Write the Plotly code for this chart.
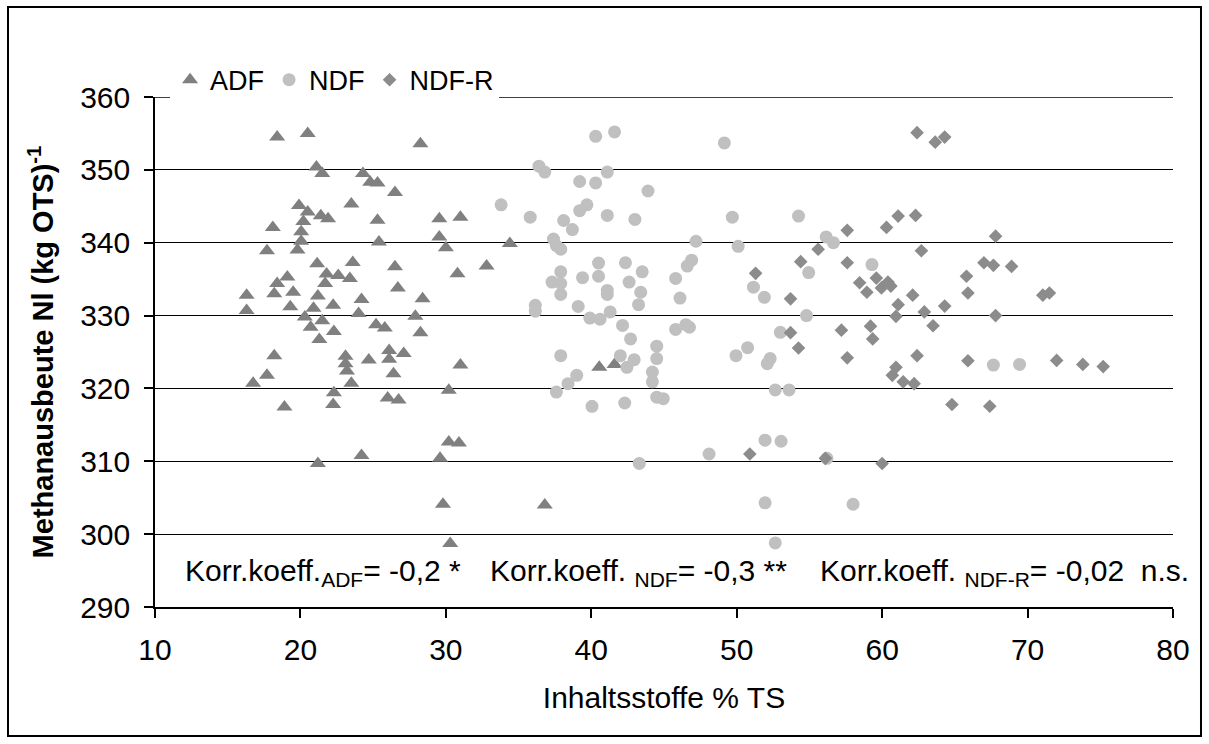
import plotly.graph_objects as go

# ---- data ----
adf_x = [18.4, 20.5, 21.1, 21.5, 24.3, 24.8, 25.3, 26.5, 23.5, 19.9, 20.5, 21.4, 21.9, 20.2, 18.1, 25.3,
         20.05, 20.05, 25.4, 17.7, 19.8, 21.15, 23.6, 21.8, 22.6, 23.4, 26.5, 19.1, 18.4, 18.2, 21.7, 19.5,
         26.7, 16.3, 21.2, 16.3, 19.3, 22.25, 24.2, 20.9, 24.0, 20.3, 21.5, 20.7, 25.2, 25.8, 22.3, 21.3,
         18.2, 23.1, 23.1, 23.2, 24.7, 26.1, 27.1, 26.1, 26.4, 17.7, 16.75, 23.5, 22.3, 22.25, 18.9, 26.0,
         26.75, 21.2, 24.2,
         28.25, 29.55, 31.0, 29.55, 30.0, 34.4, 32.8, 30.8, 28.4, 27.9, 28.25,
         31.0, 30.2, 30.2, 30.9, 29.6, 29.8, 36.8, 30.3, 40.55, 41.6]
adf_y = [354.5, 355.0, 350.4, 349.5, 349.5, 348.3, 348.2, 346.9, 345.3, 345.1, 344.2, 343.7, 343.3, 342.9, 342.1, 343.1,
         341.5, 340.2, 340.1, 338.9, 339.0, 337.1, 337.3, 335.7, 335.5, 335.1, 336.7, 335.3, 334.4, 333.0, 334.4, 333.2,
         333.8, 332.8, 332.7, 330.7, 331.2, 331.4, 332.2, 331.0, 330.3, 329.8, 329.3, 328.4, 328.75, 328.3, 327.8, 326.7,
         324.5, 324.4, 323.4, 322.4, 323.9, 325.2, 324.8, 324.0, 322.0, 321.8, 320.7, 320.7, 319.4, 317.8, 317.45, 318.7,
         318.4, 309.7, 310.8,
         353.6, 343.3, 343.5, 340.8, 339.3, 339.9, 336.8, 335.75, 332.3, 329.9, 327.65,
         323.2, 319.75, 312.65, 312.5, 310.4, 304.1, 304.0, 298.7, 322.9, 323.3]

ndf_x = [40.3, 41.6, 36.4, 36.8, 41.1, 39.2, 40.3, 43.9, 33.8, 35.8, 39.7, 39.2, 41.1, 43.0, 38.1, 38.7,
         37.4, 37.9, 37.6, 40.5, 42.35, 43.5, 37.9, 39.4, 40.5, 37.3, 37.9, 42.6, 41.1, 41.1, 43.4, 37.9,
         43.25, 36.15, 36.15, 39.1, 41.3, 39.9, 40.6, 42.15, 42.7, 44.5,
         37.9, 42.0, 42.45, 42.95, 44.5, 44.2, 44.2, 44.5, 44.95, 39.0, 38.4, 37.6, 40.05, 42.3, 43.3,
         49.15, 49.7, 54.25, 47.2, 50.1, 56.15, 56.65, 46.9, 46.6, 45.8, 46.1, 54.95, 59.3, 51.15, 51.9,
         54.8, 45.8, 46.5, 46.75, 53.0, 50.75,
         49.95, 52.1, 52.3, 52.65, 53.6, 51.95, 53.05, 48.1, 56.2, 51.95, 58.0, 52.65,
         67.65, 69.45]
ndf_y = [354.6, 355.2, 350.5, 349.7, 349.7, 348.4, 348.2, 347.1, 345.2, 343.5, 345.2, 344.4, 343.75, 343.2, 343.05, 341.8,
         340.5, 339.1, 339.6, 337.2, 337.25, 336.0, 336.0, 335.2, 335.4, 334.6, 334.4, 334.6, 333.45, 332.9, 333.2, 332.9,
         331.5, 331.4, 330.6, 331.25, 330.5, 329.65, 329.5, 328.65, 326.8, 325.8,
         324.5, 324.5, 322.9, 323.95, 324.1, 322.25, 320.9, 318.8, 318.6, 321.8, 320.65, 319.5, 317.55, 318.0, 309.7,
         353.7, 343.5, 343.65, 340.2, 339.5, 340.8, 340.0, 337.6, 336.8, 335.1, 332.4, 335.9, 337.0, 333.9, 332.5,
         330.0, 328.1, 328.75, 328.4, 327.7, 325.6,
         324.5, 323.4, 324.1, 319.8, 319.8, 312.9, 312.75, 311.0, 310.4, 304.3, 304.1, 298.8,
         323.2, 323.3]

ndfr_x = [62.4, 57.6, 60.3, 61.1, 62.3, 55.6, 62.7, 54.4, 57.6, 51.3, 58.45, 58.95, 59.6, 59.95, 60.4, 60.6,
          62.1, 61.1, 60.95, 62.9, 53.7, 53.7, 57.2, 59.2, 59.35, 54.25,
          63.65, 64.3, 67.8, 67.0, 67.65, 68.9, 65.8, 65.9, 71.05, 71.5, 64.3, 63.5, 67.8,
          57.6, 62.4, 60.95, 60.7, 61.45, 62.2, 50.9, 56.1, 60.0,
          65.9, 72.0, 73.8, 75.2, 64.8, 67.4]
ndfr_y = [355.1, 341.7, 342.1, 343.65, 343.75, 339.1, 338.9, 337.4, 337.25, 335.8, 334.5, 333.2, 335.15, 333.8, 334.6, 334.05,
          332.8, 331.5, 329.9, 330.5, 332.3, 327.65, 328.0, 328.55, 326.8, 325.55,
          353.8, 354.5, 340.9, 337.25, 336.9, 336.75, 335.4, 333.1, 332.8, 333.1, 331.3, 328.6, 330.0,
          324.2, 324.5, 322.9, 321.8, 320.9, 320.65, 311.0, 310.4, 309.7,
          323.8, 323.85, 323.3, 323.0, 317.8, 317.55]

x_range = [10, 80]
y_range = [290, 360]

FONT = "Arial, 'Liberation Sans', sans-serif"

fig = go.Figure()
fig.add_trace(go.Scatter(x=adf_x, y=adf_y, mode="markers", name="ADF",
                         marker=dict(symbol="triangle-up", size=14, color="#808080", line=dict(width=0))))
fig.add_trace(go.Scatter(x=ndf_x, y=ndf_y, mode="markers", name="NDF",
                         marker=dict(symbol="circle", size=13, color="#C0C0C0", line=dict(width=0))))
fig.add_trace(go.Scatter(x=ndfr_x, y=ndfr_y, mode="markers", name="NDF-R",
                         marker=dict(symbol="diamond", size=10.5, color="#8C8C8C", line=dict(width=0))))

fig.update_layout(
    width=1209, height=744,
    margin=dict(l=155, r=36, t=97, b=137),
    paper_bgcolor="white", plot_bgcolor="white",
    font=dict(family=FONT, size=30, color="black"),
    showlegend=True,
    legend=dict(orientation="h", x=0.0148, xanchor="left", y=1.033, yanchor="middle",
                bgcolor="white", font=dict(size=27), borderwidth=0),
    xaxis=dict(range=x_range, dtick=10, tick0=10, showgrid=False, zeroline=False,
               showline=True, linecolor="black", linewidth=1.5,
               ticks="outside", ticklen=9, tickwidth=1.5, tickcolor="black",
               tickfont=dict(size=30), ticklabelstandoff=6,
               title=dict(text="Inhaltsstoffe % TS", font=dict(size=30), standoff=22)),
    yaxis=dict(range=y_range, dtick=10, tick0=290, showgrid=True, gridcolor="black", gridwidth=1.3,
               zeroline=False, showline=True, linecolor="black", linewidth=1.5,
               ticks="outside", ticklen=9, tickwidth=1.5, tickcolor="black",
               tickfont=dict(size=30), ticklabelstandoff=8,
               title=dict(text="<b>Methanausbeute Nl (kg OTS)<sup>-1</sup></b>", font=dict(size=29), standoff=18)),
    shapes=[
        # top gridline at the upper end of the value axis
        dict(type="line", xref="x", yref="y", x0=x_range[0], x1=x_range[1], y0=y_range[1], y1=y_range[1],
             line=dict(color="black", width=1.3), layer="below"),
        # outer chart frame
        dict(type="rect", xref="paper", yref="paper",
             x0=-0.1444, x1=1.0275, y0=-0.2529, y1=1.1765,
             line=dict(color="black", width=2), fillcolor="rgba(0,0,0,0)", layer="above"),
    ],
    annotations=[
        dict(text="Korr.koeff.<sub>ADF</sub>= -0,2 *", xref="paper", yref="paper",
             x=0.0275, y=0.0686, xanchor="left", yanchor="middle", showarrow=False, font=dict(size=30)),
        dict(text="Korr.koeff. <sub>NDF</sub>= -0,3 **", xref="paper", yref="paper",
             x=0.3270, y=0.0686, xanchor="left", yanchor="middle", showarrow=False, font=dict(size=30)),
        dict(text="Korr.koeff. <sub>NDF-R</sub>= -0,02  n.s.", xref="paper", yref="paper",
             x=0.6510, y=0.0686, xanchor="left", yanchor="middle", showarrow=False, font=dict(size=30)),
    ],
)

fig.write_html("out.html")
